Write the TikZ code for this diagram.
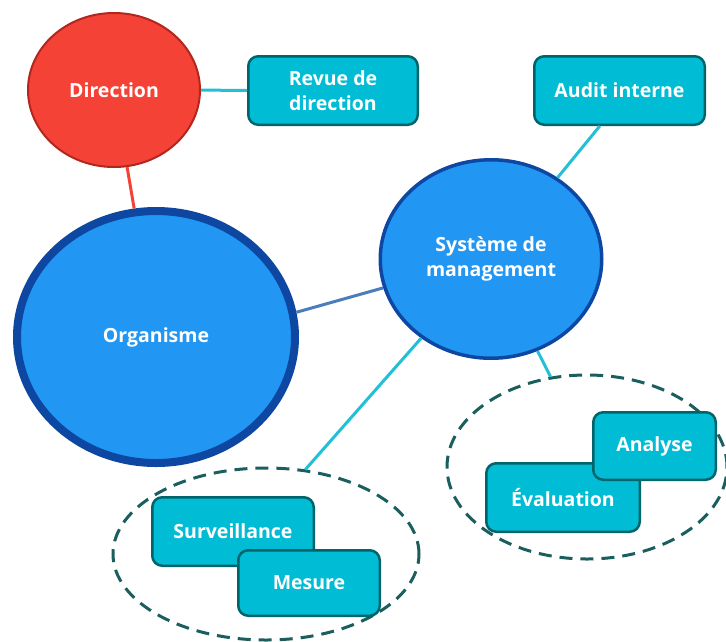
\documentclass[tikz,border=0pt]{standalone}
\usepackage{fontspec}
\setmainfont{Open Sans}
\usetikzlibrary{shapes.geometric}

\definecolor{dirfill}{HTML}{F44336}
\definecolor{diredge}{HTML}{B3261E}
\definecolor{bluefill}{HTML}{2196F3}
\definecolor{blueedge}{HTML}{0D47A1}
\definecolor{cardfill}{HTML}{00BCD4}
\definecolor{cardedge}{HTML}{00646A}
\definecolor{groupedge}{HTML}{1B5E5E}
\definecolor{linkcyan}{HTML}{22C0D6}
\definecolor{linksteel}{HTML}{4A7EBB}

\begin{document}
\begin{tikzpicture}[x=1pt,y=-1pt,
  lbl/.style={text=white, font=\bfseries\fontsize{19.5}{25}\selectfont, align=center},
  bubble/.style={ellipse, inner sep=0pt, lbl},
  card/.style={rectangle, rounded corners=10pt, draw=cardedge, fill=cardfill,
               line width=2.5pt, inner sep=0pt, lbl},
  group/.style={ellipse, draw=groupedge, dash pattern=on 13pt off 8pt,
                line width=3pt, inner sep=0pt},
  link/.style={draw=linkcyan, line width=3pt},
]
\useasboundingbox (0,0) rectangle (726,641);

% dashed groupings
\node[group, minimum width=306pt, minimum height=172pt] (grpA) at (266,554) {};
\node[group, minimum width=280pt, minimum height=184pt] (grpB) at (587,467) {};

% cards
\node[card, minimum width=169.5pt, minimum height=68.5pt] (revue) at (333,90.5) {Revue de\\direction};
\node[card, minimum width=170.5pt, minimum height=68.5pt] (audit) at (619.5,90.5) {Audit interne};
\node[card, minimum width=161.5pt, minimum height=68.5pt] (surv) at (233,531.5) {Surveillance};
\node[card, minimum width=141.5pt, minimum height=65.5pt] (mesure) at (309,583) {Mesure};
\node[card, minimum width=153.5pt, minimum height=68.5pt] (eval) at (563,497.5) {Évaluation};
\node[card, minimum width=122.5pt, minimum height=67.5pt] (analyse) at (654.5,446) {Analyse};

% main bubbles
\node[bubble, fill=dirfill, draw=diredge, line width=2pt,
      minimum width=172pt, minimum height=154pt] (dir) at (114,90) {Direction};
\node[bubble, fill=bluefill, draw=blueedge, line width=8pt,
      minimum width=278pt, minimum height=252pt] (org) at (156,337) {Organisme};
\node[bubble, fill=bluefill, draw=blueedge, line width=3.5pt,
      minimum width=221.5pt, minimum height=198.5pt] (sys) at (491,259) {Système de\\management};

% connectors
\draw[link] (dir) -- (revue);
\draw[link, draw=dirfill] (dir) -- (org);
\draw[link, draw=linksteel] (org.10.8) -- (sys.195.6);
\draw[link] (sys) -- (audit.241.2);
\draw[link] (sys) -- (grpA.65.4);
\draw[link] (sys) -- (grpB.112.6);
\end{tikzpicture}
\end{document}
